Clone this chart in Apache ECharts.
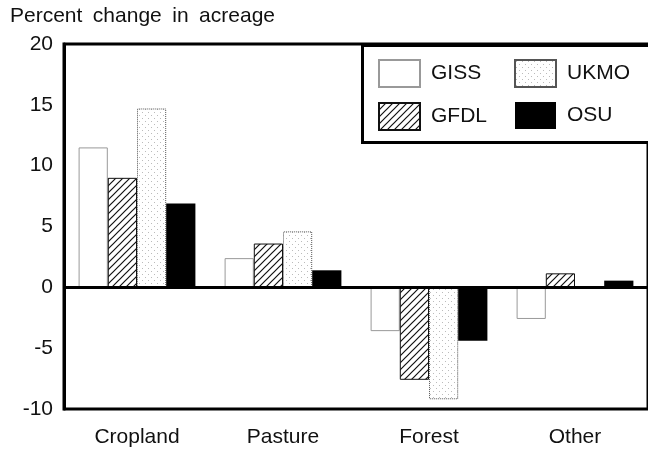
<!DOCTYPE html>
<html>
<head>
<meta charset="utf-8">
<script src="https://cdn.jsdelivr.net/npm/echarts@6/dist/echarts.min.js"></script>
<style>
  html, body { margin: 0; padding: 0; background: #fff; }
  #chart { width: 648px; height: 449px; }
</style>
</head>
<body>
<div id="chart"></div>
<script>
// values (percent change in acreage)
const categories = ['Cropland', 'Pasture', 'Forest', 'Other']
const giss = [11.5, 2.4, -3.6, -2.6]
const gfdl = [9.0, 3.6, -7.6, 1.15]
const ukmo = [14.7, 4.6, -9.2, 0]
const osu = [6.9, 1.4, -4.4, 0.55]

// hatch pattern for GFDL
function hatch() {
  const c = document.createElement('canvas')
  c.width = 7; c.height = 7
  const g = c.getContext('2d')
  g.fillStyle = '#fff'; g.fillRect(0, 0, 7, 7)
  g.strokeStyle = '#111'; g.lineWidth = 1.2
  g.beginPath()
  g.moveTo(-1, 8); g.lineTo(8, -1)
  g.moveTo(-1, 1); g.lineTo(1, -1)
  g.moveTo(6, 8); g.lineTo(8, 6)
  g.stroke()
  return c
}
// sparse dots for UKMO
function dots() {
  const c = document.createElement('canvas')
  c.width = 6; c.height = 6
  const g = c.getContext('2d')
  g.fillStyle = '#fff'; g.fillRect(0, 0, 6, 6)
  g.fillStyle = '#bbb'
  g.fillRect(1, 1, 1, 1); g.fillRect(4, 4, 1, 1)
  return c
}

const chart = echarts.init(document.getElementById('chart'))
const font = '"Liberation Sans", Arial, sans-serif'

const legendBase = {
  orient: 'vertical', top: 59, padding: 0, z: 10,
  itemWidth: 41, itemHeight: 27, itemGap: 14, icon: 'rect',
  textStyle: { fontSize: 21, color: '#111', fontFamily: font, padding: [0, 0, 0, 6] }
}

chart.setOption({
  animation: false,
  title: {
    text: 'Percent\u2002change\u2002in\u2002acreage', left: 10, top: 6, padding: 0,
    textStyle: { fontSize: 21, fontWeight: 'normal', color: '#111', fontFamily: font }
  },
  graphic: [{
    type: 'rect', left: 361, top: 44, z: 5,
    shape: { width: 300, height: 97 },
    style: { fill: '#fff', stroke: '#000', lineWidth: 3 }
  }],
  legend: [
    Object.assign({ left: 378, data: ['GISS', 'GFDL'] }, legendBase),
    Object.assign({ left: 514, data: ['UKMO', 'OSU'] }, legendBase)
  ],
  grid: { left: 64, top: 44, bottom: 40, width: 589, show: true, borderColor: '#000', borderWidth: 3 },
  xAxis: {
    type: 'category', data: categories,
    axisLine: { show: false }, axisTick: { show: false },
    axisLabel: { margin: 18, fontSize: 21, color: '#111', fontFamily: font }
  },
  yAxis: {
    type: 'value', min: -10, max: 20, interval: 5,
    axisLine: { show: true, lineStyle: { color: '#000', width: 3 } },
    axisTick: { show: false }, splitLine: { show: false },
    axisLabel: { fontSize: 21, color: '#111', fontFamily: font, margin: 11 }
  },
  series: [
    {
      name: 'GISS', type: 'bar', data: giss, barGap: '0%', barCategoryGap: '20%',
      itemStyle: { color: '#fff', borderColor: '#999', borderWidth: 1 },
      markLine: {
        silent: true, symbol: ['none', 'none'], label: { show: false },
        lineStyle: { color: '#000', width: 3, type: 'solid' },
        data: [{ yAxis: 0 }]
      }
    },
    {
      name: 'GFDL', type: 'bar', data: gfdl,
      itemStyle: { color: { image: hatch(), repeat: 'repeat' }, borderColor: '#111', borderWidth: 1 }
    },
    {
      name: 'UKMO', type: 'bar', data: ukmo,
      itemStyle: { color: { image: dots(), repeat: 'repeat' }, borderColor: '#555', borderWidth: 1, borderType: 'dotted' }
    },
    {
      name: 'OSU', type: 'bar', data: osu,
      itemStyle: { color: '#000' }
    }
  ]
})
</script>
</body>
</html>
